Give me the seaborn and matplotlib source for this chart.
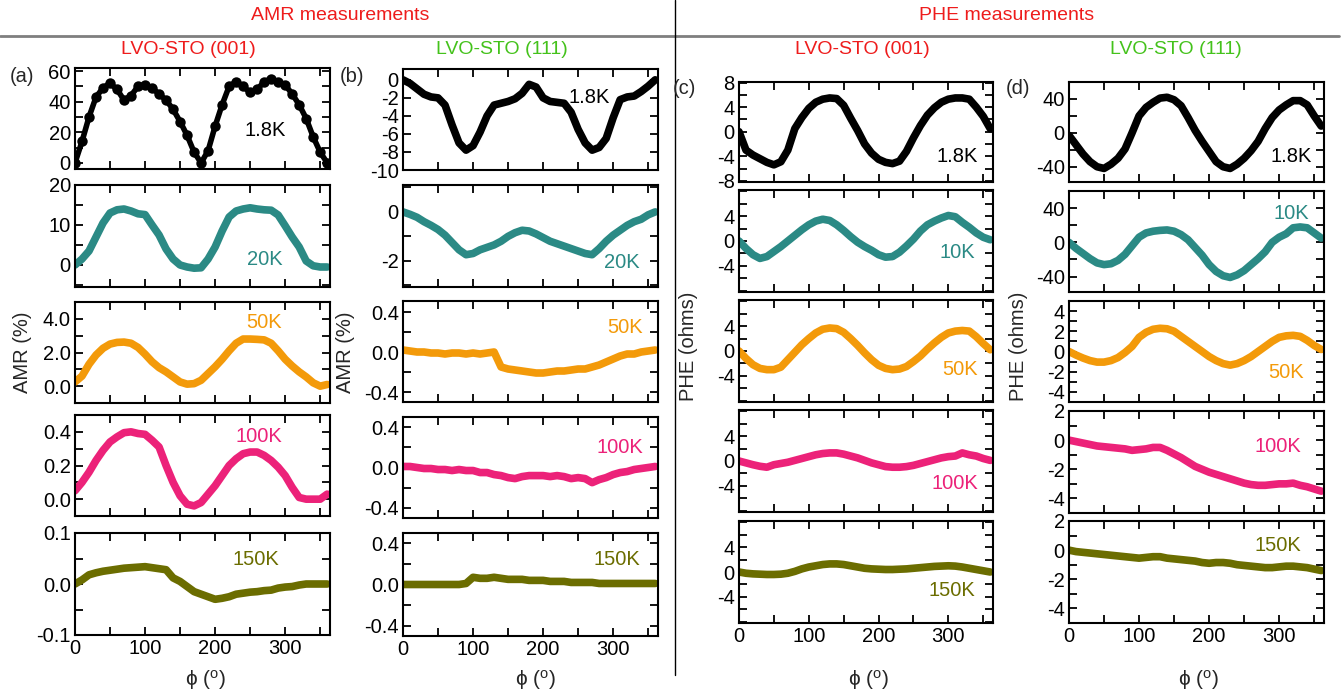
import numpy as np
import pandas as pd
import seaborn as sns
import matplotlib.pyplot as plt
from matplotlib.ticker import MultipleLocator, FixedLocator, FormatStrFormatter

# angle grid (deg) shared by every curve
PHI = [0, 10, 20, 30, 40, 50, 60, 70, 80, 90, 100, 110, 120, 130, 140, 150, 160, 170, 180,
       190, 200, 210, 220, 230, 240, 250, 260, 270, 280, 290, 300, 310, 320, 330, 340, 350, 360]

# (a) AMR, LVO-STO (001)
amr001_1p8K = [0, 14, 30, 43, 49, 52, 48, 41, 44, 50, 51, 49, 45, 41, 35, 27, 18, 7, 0,
               8, 24, 38, 50, 53, 50, 46, 48, 53, 55, 53, 51, 45, 38, 29, 17, 7, 0]
amr001_20K = [0, 1.5, 3.5, 7, 10.5, 13, 13.8, 14, 13.5, 12.8, 12.6, 10, 7.5, 4, 1.5, 0, -0.5, -0.8, -0.7,
              1.5, 4.5, 8.5, 12, 13.5, 14, 14.3, 14, 13.8, 13.7, 12.5, 9.8, 7, 4.5, 1, -0.2, -0.5, -0.5]
amr001_50K = [0.25, 0.6, 1.3, 1.85, 2.25, 2.5, 2.6, 2.62, 2.55, 2.3, 1.9, 1.45, 1.1, 0.85, 0.55, 0.25, 0.12, 0.15, 0.35,
              0.75, 1.15, 1.6, 2.1, 2.55, 2.8, 2.8, 2.78, 2.75, 2.55, 2.1, 1.6, 1.2, 0.85, 0.55, 0.2, 0.0, 0.1]
amr001_100K = [0.05, 0.1, 0.16, 0.23, 0.29, 0.34, 0.37, 0.395, 0.4, 0.39, 0.385, 0.35, 0.31, 0.2, 0.1, 0.02, -0.03, -0.04, -0.02,
               0.03, 0.08, 0.14, 0.2, 0.24, 0.27, 0.28, 0.28, 0.26, 0.23, 0.19, 0.14, 0.07, 0.01, 0.0, 0.0, 0.0, 0.03]
amr001_150K = [0, 0.008, 0.018, 0.022, 0.025, 0.027, 0.029, 0.031, 0.032, 0.033, 0.034, 0.032, 0.03, 0.028, 0.012, 0.005, -0.005, -0.015, -0.02,
               -0.025, -0.03, -0.028, -0.025, -0.02, -0.018, -0.016, -0.015, -0.013, -0.012, -0.008, -0.006, -0.005, -0.002, 0, 0, 0, 0]

# (b) AMR, LVO-STO (111)
amr111_1p8K = [0, -0.4, -1.0, -1.6, -1.9, -2.0, -2.8, -5.0, -7.0, -7.8, -7.3, -5.8, -4.0, -2.8, -2.6, -2.4, -2.1, -1.5, -0.5,
               -0.8, -2.0, -2.4, -2.5, -2.6, -3.6, -5.5, -7.0, -7.8, -7.5, -6.5, -4.2, -2.2, -1.9, -1.8, -1.3, -0.7, 0]
amr111_20K = [0, -0.1, -0.22, -0.4, -0.55, -0.72, -0.95, -1.25, -1.55, -1.75, -1.7, -1.55, -1.45, -1.35, -1.2, -1.0, -0.85, -0.75, -0.78,
              -0.9, -1.05, -1.2, -1.3, -1.4, -1.5, -1.6, -1.7, -1.75, -1.5, -1.2, -0.95, -0.75, -0.55, -0.4, -0.3, -0.12, 0]
amr111_50K = [0.02, 0.01, 0, 0, -0.01, -0.01, -0.02, -0.01, -0.01, -0.02, -0.01, -0.02, -0.01, 0.0, -0.15, -0.17, -0.18, -0.19, -0.2,
              -0.21, -0.21, -0.2, -0.19, -0.19, -0.18, -0.17, -0.17, -0.15, -0.13, -0.1, -0.07, -0.04, -0.02, -0.02, 0.0, 0.01, 0.02]
amr111_100K = [0.01, 0.01, 0, -0.01, -0.01, -0.02, -0.02, -0.03, -0.02, -0.03, -0.03, -0.05, -0.05, -0.07, -0.08, -0.1, -0.11, -0.09, -0.08,
               -0.08, -0.08, -0.09, -0.08, -0.09, -0.11, -0.1, -0.11, -0.15, -0.12, -0.1, -0.07, -0.05, -0.04, -0.02, -0.01, 0, 0.01]
amr111_150K = [0, 0, 0, 0, 0, 0, 0, 0, 0, 0.01, 0.07, 0.06, 0.06, 0.07, 0.06, 0.05, 0.05, 0.05, 0.04,
               0.04, 0.04, 0.03, 0.03, 0.03, 0.02, 0.02, 0.02, 0.02, 0.01, 0.01, 0.01, 0.01, 0.01, 0.01, 0.01, 0.01, 0.01]

# (c) PHE, LVO-STO (001)
phe001_1p8K = [0, -3.0, -3.8, -4.4, -5.0, -5.4, -4.9, -3.0, 0.5, 2.3, 3.8, 4.8, 5.3, 5.5, 5.4, 4.3, 2.2, 0.2, -2.0,
               -3.5, -4.5, -5.0, -5.2, -4.8, -3.2, -1.0, 1.0, 2.7, 3.9, 4.8, 5.3, 5.5, 5.5, 5.3, 4.0, 2.5, 0.5]
phe001_10K = [0, -1.2, -2.2, -2.8, -2.5, -1.7, -0.9, 0.0, 0.9, 1.8, 2.6, 3.2, 3.5, 3.3, 2.6, 1.7, 0.7, -0.2, -0.9,
              -1.5, -2.2, -2.6, -2.5, -1.8, -0.8, 0.3, 1.6, 2.6, 3.2, 3.7, 4.1, 3.9, 3.0, 2.2, 1.3, 0.6, 0.2]
phe001_50K = [0, -1.2, -2.2, -2.8, -3.0, -3.0, -2.6, -1.4, -0.2, 1.0, 2.0, 2.9, 3.5, 3.7, 3.6, 3.0, 2.0, 0.9, -0.3,
              -1.4, -2.3, -2.8, -3.0, -2.9, -2.5, -1.7, -0.8, 0.3, 1.3, 2.2, 2.9, 3.2, 3.3, 3.2, 2.3, 1.2, 0.2]
phe001_100K = [0, -0.3, -0.6, -0.85, -1.0, -0.6, -0.4, -0.2, 0.1, 0.4, 0.7, 1.0, 1.2, 1.3, 1.3, 1.1, 0.8, 0.5, 0.1,
               -0.3, -0.6, -0.9, -1.0, -1.0, -0.9, -0.7, -0.4, -0.1, 0.2, 0.5, 0.7, 0.8, 1.3, 1.0, 0.8, 0.4, 0.1]
phe001_150K = [0, -0.2, -0.3, -0.35, -0.4, -0.4, -0.35, -0.2, 0.1, 0.5, 0.8, 1.0, 1.2, 1.3, 1.3, 1.2, 1.0, 0.8, 0.6,
               0.5, 0.45, 0.4, 0.4, 0.45, 0.5, 0.6, 0.7, 0.8, 0.9, 0.95, 1.0, 0.95, 0.8, 0.6, 0.4, 0.2, 0]

# (d) PHE, LVO-STO (111)
phe111_1p8K = [-3, -14, -25, -34, -40, -42, -37, -30, -19, 0, 20, 30, 36, 41, 42, 39, 32, 18, 3,
               -10, -22, -34, -40, -42, -37, -30, -21, -10, 5, 18, 27, 33, 38, 38, 33, 20, 8]
phe111_10K = [0, -7, -13, -19, -24, -26, -25, -21, -14, -4, 6, 11, 13, 14, 14.5, 13, 9, 3, -6,
              -15, -26, -34, -39, -41, -38, -33, -26, -19, -11, 0, 6, 10, 17, 18, 17, 11, 5]
phe111_50K = [0, -0.35, -0.65, -0.9, -1.05, -1.05, -0.9, -0.6, -0.1, 0.5, 1.4, 1.9, 2.2, 2.3, 2.25, 2.0, 1.5, 1.0, 0.5,
              0.0, -0.5, -0.9, -1.2, -1.35, -1.2, -0.9, -0.5, 0.0, 0.5, 1.0, 1.4, 1.55, 1.6, 1.5, 1.1, 0.6, 0.2]
phe111_100K = [0, -0.1, -0.2, -0.3, -0.4, -0.45, -0.5, -0.55, -0.6, -0.7, -0.65, -0.6, -0.5, -0.5, -0.7, -0.95, -1.2, -1.5, -1.8,
               -2.0, -2.2, -2.35, -2.5, -2.65, -2.8, -2.95, -3.05, -3.1, -3.1, -3.05, -3.0, -3.0, -2.95, -3.1, -3.2, -3.35, -3.5]
phe111_150K = [0, -0.1, -0.15, -0.2, -0.25, -0.3, -0.35, -0.4, -0.45, -0.5, -0.55, -0.5, -0.45, -0.45, -0.55, -0.6, -0.65, -0.7, -0.75,
               -0.85, -0.9, -0.85, -0.85, -0.9, -1.0, -1.05, -1.1, -1.15, -1.2, -1.2, -1.15, -1.1, -1.1, -1.15, -1.2, -1.3, -1.4]

TEMP_COLORS = {'1.8K': '#000000', '20K': '#2b8a85', '10K': '#2b8a85', '50K': '#f39a0a',
               '100K': '#ec2279', '150K': '#6b6d00'}
RED = '#ee1c1c'
GREEN = '#44c21b'

sns.set_style('ticks')
plt.rcParams['font.family'] = ['Liberation Sans', 'DejaVu Sans']
plt.rcParams['axes.unicode_minus'] = False
plt.rcParams['mathtext.default'] = 'regular'

W, H = 1344, 697
fig = plt.figure(figsize=(W / 100, H / 100), dpi=100)


def px_axes(left, right, top, bottom):
    return fig.add_axes([left / W, 1 - bottom / H, (right - left) / W, (bottom - top) / H])


# column geometry in pixels: left, right, and row (top, bottom)
columns = [
    (75, 330, [(68, 169), (185, 287), (302, 403), (415, 516), (533, 635)]),
    (403, 658, [(69, 170), (185, 287), (301, 402), (417, 518), (533, 636)]),
    (739, 993, [(82, 182), (190, 292), (300, 402), (410, 512), (521, 623)]),
    (1069, 1324, [(82, 182), (191, 292), (301, 402), (411, 513), (521, 623)]),
]

# per panel: data, label, label position (axes frac), ylim, major ticks, minor step, format
panels = [
    [(amr001_1p8K, '1.8K', (0.745, 0.38), (-4, 62), [0, 20, 40, 60], 10, '%d'),
     (amr001_20K, '20K', (0.745, 0.27), (-5.5, 20), [0, 10, 20], 5, '%d'),
     (amr001_50K, '50K', (0.74, 0.80), (-1, 5), [0, 2, 4], 1, '%.1f'),
     (amr001_100K, '100K', (0.72, 0.79), (-0.1, 0.5), [0, 0.2, 0.4], 0.1, '%.1f'),
     (amr001_150K, '150K', (0.71, 0.74), (-0.1, 0.1), [-0.1, 0, 0.1], 0.05, '%.1f')],
    [(amr111_1p8K, '1.8K', (0.73, 0.72), (-10, 1.2), [-10, -8, -6, -4, -2, 0], None, '%d'),
     (amr111_20K, '20K', (0.86, 0.24), (-3.07, 1.1), [-2, 0], 1, '%d'),
     (amr111_50K, '50K', (0.87, 0.74), (-0.5, 0.51), [-0.4, 0, 0.4], 0.2, '%.1f'),
     (amr111_100K, '100K', (0.85, 0.70), (-0.5, 0.5), [-0.4, 0, 0.4], 0.2, '%.1f'),
     (amr111_150K, '150K', (0.84, 0.74), (-0.5, 0.5), [-0.4, 0, 0.4], 0.2, '%.1f')],
    [(phe001_1p8K, '1.8K', (0.86, 0.25), (-8.2, 8.1), [-8, -4, 0, 4, 8], 2, '%d'),
     (phe001_10K, '10K', (0.86, 0.39), (-8.2, 8.2), [-4, 0, 4], 2, '%d'),
     (phe001_50K, '50K', (0.87, 0.32), (-8.2, 8.2), [-4, 0, 4], 2, '%d'),
     (phe001_100K, '100K', (0.85, 0.28), (-8.2, 8.2), [-4, 0, 4], 2, '%d'),
     (phe001_150K, '150K', (0.84, 0.32), (-8.2, 8.2), [-4, 0, 4], 2, '%d')],
    [(phe111_1p8K, '1.8K', (0.87, 0.25), (-58, 60), [-40, 0, 40], 20, '%d'),
     (phe111_10K, '10K', (0.87, 0.78), (-58, 60), [-40, 0, 40], 20, '%d'),
     (phe111_50K, '50K', (0.85, 0.29), (-5, 5), [-4, -2, 0, 2, 4], 1, '%d'),
     (phe111_100K, '100K', (0.82, 0.65), (-5, 2), [-4, -2, 0, 2], 1, '%d'),
     (phe111_150K, '150K', (0.82, 0.76), (-5, 2), [-4, -2, 0, 2], 1, '%d')],
]

for c, ((left, right, rows), col_panels) in enumerate(zip(columns, panels)):
    for r, ((top, bottom), spec) in enumerate(zip(rows, col_panels)):
        vals, temp, (tx, ty), ylim, yticks, yminor, fmt = spec
        ax = px_axes(left, right, top, bottom)
        color = TEMP_COLORS[temp]
        df = pd.DataFrame({'phi': PHI, 'val': vals})
        if c == 0 and r == 0:
            # the 1.8K AMR (001) curve shows as separate dots
            sns.lineplot(data=df, x='phi', y='val', ax=ax, color=color, linewidth=4,
                         marker='o', markersize=7.5, markeredgewidth=0)
        else:
            sns.lineplot(data=df, x='phi', y='val', ax=ax, color=color, linewidth=5.5,
                         solid_capstyle='round', solid_joinstyle='round')
        ax.set_xlim(0, 364)
        ax.set_ylim(*ylim)
        ax.xaxis.set_major_locator(FixedLocator([0, 100, 200, 300]))
        ax.xaxis.set_minor_locator(FixedLocator([50, 150, 250, 350]))
        ax.yaxis.set_major_locator(FixedLocator(yticks))
        if yminor:
            ax.yaxis.set_minor_locator(MultipleLocator(yminor))
        ax.yaxis.set_major_formatter(FormatStrFormatter(fmt))
        ax.tick_params(which='both', direction='in', top=True, right=True, width=1.3,
                       labelsize=14.5, pad=3, colors='black')
        ax.tick_params(which='major', length=6)
        ax.tick_params(which='minor', length=6)
        if r < 4:
            ax.tick_params(labelbottom=False)
        ax.set_xlabel('')
        ax.set_ylabel('')
        for s in ax.spines.values():
            s.set_linewidth(1.5)
            s.set_color('black')
        ax.text(tx, ty, temp, transform=ax.transAxes, color=color, fontsize=14.5,
                ha='center', va='center')


def ftext(x, y, s, **kw):
    fig.text(x / W, 1 - y / H, s, ha='center', va='center', **kw)


# headers and separators
ftext(340, 15, 'AMR measurements', color=RED, fontsize=14)
ftext(1007, 15, 'PHE measurements', color=RED, fontsize=14)
fig.add_artist(plt.Line2D([0, 1339 / W], [1 - 36 / H, 1 - 36 / H], color='#7f7f7f', linewidth=2))
fig.add_artist(plt.Line2D([675 / W, 675 / W], [1, 1 - 675 / H], color='black', linewidth=1))

ftext(188, 50, 'LVO-STO (001)', color=RED, fontsize=14)
ftext(502, 50, 'LVO-STO (111)', color=GREEN, fontsize=14)
ftext(862, 50, 'LVO-STO (001)', color=RED, fontsize=14)
ftext(1176, 50, 'LVO-STO (111)', color=GREEN, fontsize=14)

ftext(22, 76, '(a)', fontsize=14.5)
ftext(352, 76, '(b)', fontsize=14.5)
ftext(684, 89, '(c)', fontsize=14.5)
ftext(1018, 89, '(d)', fontsize=14.5)

ftext(22, 352, 'AMR (%)', fontsize=14.5, rotation=90)
ftext(346, 352, 'AMR (%)', fontsize=14.5, rotation=90)
ftext(688, 346, 'PHE (ohms)', fontsize=14.5, rotation=90)
ftext(1018, 346, 'PHE (ohms)', fontsize=14.5, rotation=90)

for xc in [205, 535, 868, 1198]:
    ftext(xc, 680, 'ϕ ($^{o}$)', fontsize=15)

fig.savefig('out.png', dpi=100)
